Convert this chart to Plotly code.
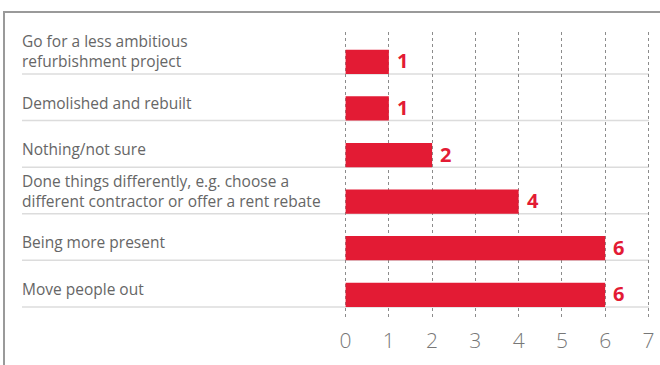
import plotly.graph_objects as go

# Survey answers, top to bottom
categories = [
    "Go for a less ambitious<br>refurbishment project",
    "Demolished and rebuilt",
    "Nothing/not sure",
    "Done things differently, e.g. choose a<br>different contractor or offer a rent rebate",
    "Being more present",
    "Move people out",
]
values = [1, 1, 2, 4, 6, 6]
x_ticks = [0, 1, 2, 3, 4, 5, 6, 7]

RED = "#E31B34"
FONT = "Open Sans"

W, H = 660, 365
L, R, T, B = 343, 9, 32, 45
pw, ph = W - L - R, H - T - B


def px_x(p):
    # pixel x -> paper x
    return (p - L) / pw


def px_y(p):
    # pixel y -> paper y
    return (H - B - p) / ph


fig = go.Figure()

fig.add_trace(go.Bar(
    x=values,
    y=categories,
    orientation="h",
    marker=dict(color=RED, line=dict(width=0)),
    width=0.52,
    offset=-0.02,
    hoverinfo="skip",
))

# value labels just right of each bar
for cat, v in zip(categories, values):
    fig.add_annotation(text=str(v), x=v, y=cat, yshift=-0.24 * 46.6 + 1,
                       xanchor="left", xshift=6, showarrow=False,
                       font=dict(family=FONT, size=20, color=RED, weight="bold"))

# separator lines under each row and the left-hand labels
for i, cat in enumerate(categories):
    fig.add_shape(type="line", xref="paper", yref="y",
                  x0=px_x(22), x1=px_x(649), y0=i + 0.5, y1=i + 0.5,
                  line=dict(color="#dcdcdc", width=1.5), layer="below")
    fig.add_annotation(text=cat, xref="paper", yref="y",
                       x=px_x(20), y=i + 0.5, xanchor="left", yanchor="bottom",
                       align="left", showarrow=False,
                       yshift=0 if "<br>" in cat else 5,
                       font=dict(family=FONT, size=15.5, color="#666666"))

# outer frame: top and left edges
fig.add_shape(type="line", xref="paper", yref="paper",
              x0=px_x(4), x1=px_x(W), y0=px_y(12), y1=px_y(12),
              line=dict(color="#9a9a9a", width=2))
fig.add_shape(type="line", xref="paper", yref="paper",
              x0=px_x(4), x1=px_x(4), y0=px_y(11), y1=px_y(H),
              line=dict(color="#9a9a9a", width=2))

fig.update_xaxes(
    range=[-0.06, 7.06],
    tickvals=x_ticks,
    automargin=False,
    showgrid=True, gridcolor="#8c8c8c", griddash="dot", gridwidth=1,
    zeroline=False, showline=False, ticks="",
    ticklabelstandoff=6,
    tickfont=dict(family=FONT, size=21, color="#777777", weight=300),
)
fig.update_yaxes(
    categoryorder="array", categoryarray=categories,
    range=[5.78, -0.4],
    automargin=False,
    showgrid=False, zeroline=False, showticklabels=False, ticks="",
)

fig.update_layout(
    width=W, height=H,
    margin=dict(l=L, r=R, t=T, b=B),
    plot_bgcolor="white", paper_bgcolor="white",
    showlegend=False,
)

fig.write_html("out.html", config={"displayModeBar": False},
               post_script="document.body.style.margin='0';")
